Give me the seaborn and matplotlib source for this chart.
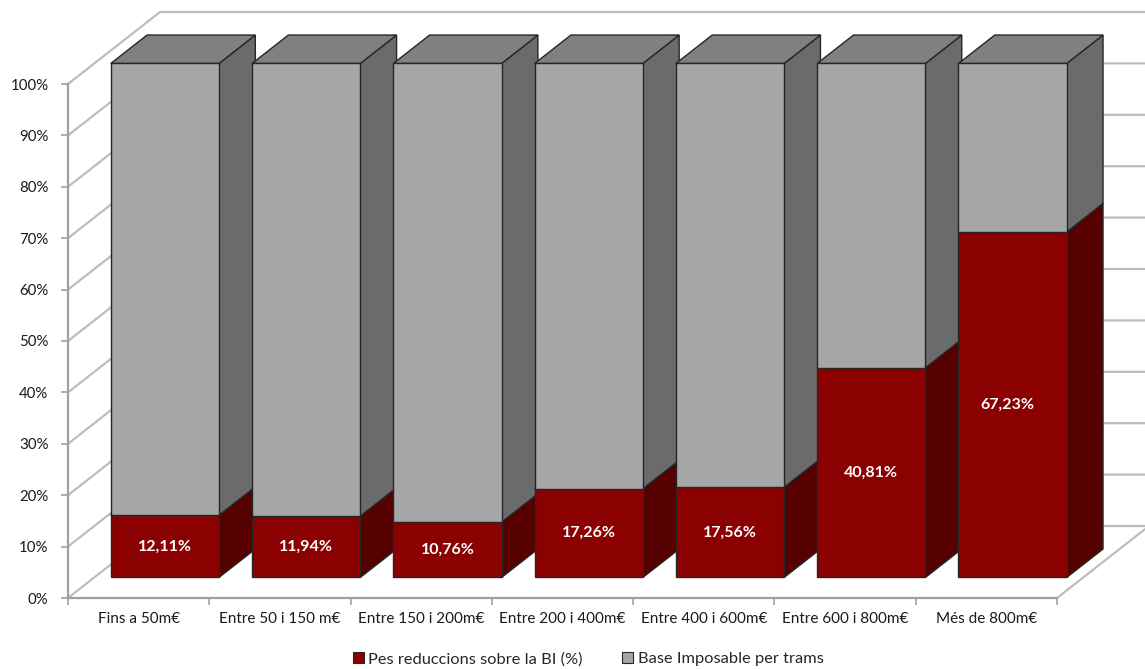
import matplotlib
matplotlib.use("Agg")
import matplotlib.pyplot as plt
from matplotlib.patches import Polygon, Patch
from matplotlib.lines import Line2D
import seaborn as sns
import numpy as np

# --- data -------------------------------------------------------------
categories = ["Fins a 50m€", "Entre 50 i 150 m€", "Entre 150 i 200m€",
              "Entre 200 i 400m€", "Entre 400 i 600m€", "Entre 600 i 800m€",
              "Més de 800m€"]
reduccions = [12.11, 11.94, 10.76, 17.26, 17.56, 40.81, 67.23]   # Pes reduccions sobre la BI (%)
base_trams = [100 - v for v in reduccions]                        # Base Imposable per trams
y_ticks = list(range(0, 101, 10))
series_names = ["Pes reduccions sobre la BI (%)", "Base Imposable per trams"]

# --- style ------------------------------------------------------------
RED_FRONT, RED_SIDE, RED_TOP = "#8b0000", "#560000", "#6e0000"
GREY_FRONT, GREY_SIDE, GREY_TOP = "#a6a6a6", "#6b6b6b", "#808080"
EDGE = "#262626"
GRID = "#bdbdbd"
AXIS = "#a0a0a0"

sns.set_theme(style="white")
plt.rcParams["font.family"] = ["Lato", "DejaVu Sans"]

W, H, DPI = 1145, 669, 100
fig = plt.figure(figsize=(W / DPI, H / DPI), dpi=DPI)
ax = fig.add_axes([68 / W, (H - 598) / H, 989 / W, 514 / H])

total = [r + b for r, b in zip(reduccions, base_trams)]
bar_w = 0.766
sns.barplot(x=categories, y=total, color=GREY_FRONT, saturation=1, width=bar_w,
            edgecolor=EDGE, linewidth=1.0, errorbar=None, ax=ax, zorder=5)
sns.barplot(x=categories, y=reduccions, color=RED_FRONT, saturation=1, width=bar_w,
            edgecolor=EDGE, linewidth=1.0, errorbar=None, ax=ax, zorder=5)

n = len(categories)
ax.set_xlim(-0.5, n - 0.5)
ax.set_ylim(0, 100)

# oblique depth vector (pixels) converted to data units
pos = ax.get_position()
px_x = pos.width * W / n            # pixels per category unit
px_y = pos.height * H / 100.0       # pixels per percent
DX, DY = 92 / px_x, 72 / px_y
Z0, Z1 = 0.285, 0.68                # front and back depth of the bars


def at(x, y, z):
    return (x + z * DX, y + z * DY)


# walls: gridlines on the left wall and back wall
for v in y_ticks:
    pts = [at(-0.5, v, 0), at(-0.5, v, 1), at(n - 0.5, v, 1)]
    ax.add_line(Line2D([p[0] for p in pts], [p[1] for p in pts], color=GRID,
                       lw=1.6, clip_on=False, zorder=1))
# floor right edge
p0, p1 = at(n - 0.5, 0, 0), at(n - 0.5, 0, 1)
ax.add_line(Line2D([p0[0], p1[0]], [p0[1], p1[1]], color=GRID, lw=1.6,
                   clip_on=False, zorder=1))

# bars: move the front faces to their depth and add side and top faces
grey_bars = ax.patches[:n]
red_bars = ax.patches[n:2 * n]
for i in range(n):
    base_z = 10 + 10 * i
    for k, (bars, side_c, top_c) in enumerate(((red_bars, RED_SIDE, RED_TOP),
                                               (grey_bars, GREY_SIDE, GREY_TOP))):
        b = bars[i]
        x0, y0 = b.get_x(), b.get_y()
        w, h = b.get_width(), b.get_height()
        if bars is grey_bars:
            y0, h = reduccions[i], total[i] - reduccions[i]
            b.set_height(h)
        b.set_x(x0 + Z0 * DX)
        b.set_y(y0 + Z0 * DY)
        b.set_clip_on(False)
        b.set_zorder(base_z + 3 * k + 2)
        xr = x0 + w
        side = [at(xr, y0, Z0), at(xr, y0, Z1), at(xr, y0 + h, Z1), at(xr, y0 + h, Z0)]
        top = [at(x0, y0 + h, Z0), at(xr, y0 + h, Z0), at(xr, y0 + h, Z1), at(x0, y0 + h, Z1)]
        ax.add_patch(Polygon(side, closed=True, facecolor=side_c, edgecolor=EDGE,
                             lw=1.0, clip_on=False, zorder=base_z + 3 * k))
        ax.add_patch(Polygon(top, closed=True, facecolor=top_c, edgecolor=EDGE,
                             lw=1.0, clip_on=False, zorder=base_z + 3 * k + 1))

# value labels on the red segments
ax.bar_label(ax.containers[1], labels=[f"{v:.2f}%".replace(".", ",") for v in reduccions],
             label_type="center", color="white", fontsize=11.5, fontweight="bold")
for t in ax.texts:
    t.set_zorder(200)

# axes
for s in ("top", "right"):
    ax.spines[s].set_visible(False)
for s in ("left", "bottom"):
    ax.spines[s].set_color(AXIS)
    ax.spines[s].set_linewidth(1.6)
ax.set_yticks(y_ticks)
ax.set_yticklabels([f"{v}%" for v in y_ticks])
ax.tick_params(axis="y", direction="out", length=5, width=1.2, color=AXIS,
               labelsize=10.8, labelcolor="#1a1a1a", pad=9, left=True)
ax.set_xticks(range(n))
ax.set_xticklabels(categories)
ax.tick_params(axis="x", length=0, labelsize=11, labelcolor="#1a1a1a", pad=10)
ax.set_xticks(np.arange(-0.5, n, 1.0), minor=True)
ax.tick_params(axis="x", which="minor", direction="out", length=5, width=1.2,
               color=AXIS, bottom=True)
ax.set_xlabel("")
ax.set_ylabel("")
ax.patch.set_alpha(0)

# legend
handles = [Patch(facecolor=RED_FRONT, edgecolor=EDGE, lw=0.8, label=series_names[0]),
           Patch(facecolor=GREY_FRONT, edgecolor=EDGE, lw=0.8, label=series_names[1])]
fig.legend(handles=handles, loc="center", bbox_to_anchor=(588 / W, 1 - 659 / H),
           ncol=2, frameon=False, fontsize=11.8, handlelength=0.7, handleheight=0.7,
           handletextpad=0.25, columnspacing=2.4, borderaxespad=0)

fig.savefig("out.png", dpi=DPI)
